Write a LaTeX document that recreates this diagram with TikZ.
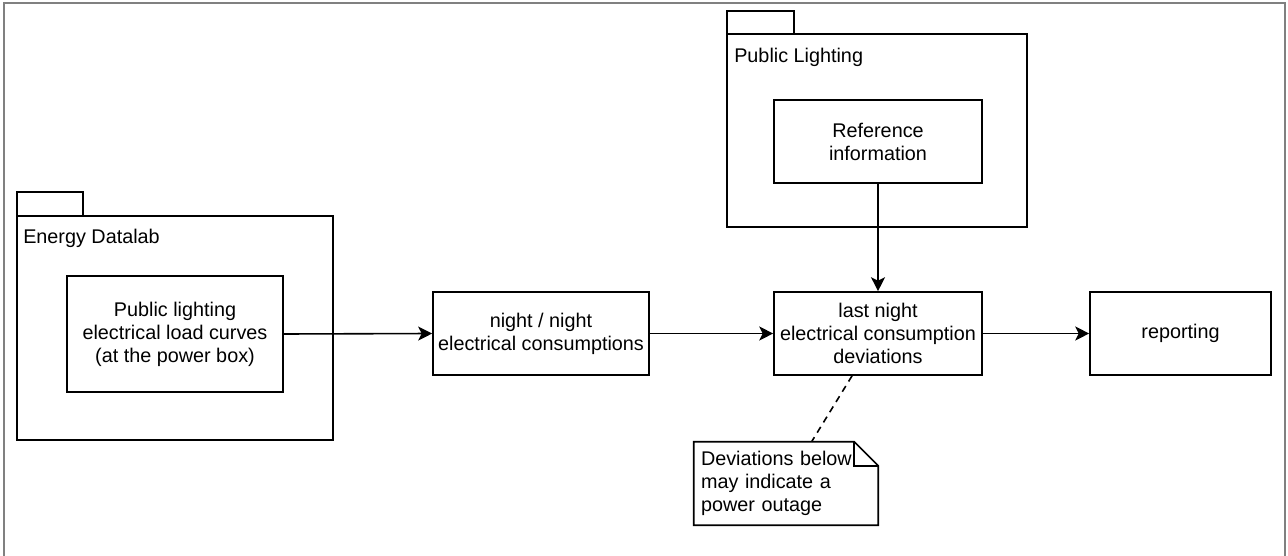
\documentclass[tikz,border=0pt]{standalone}
\usepackage{fontspec}
\setmainfont{Liberation Sans}
\usetikzlibrary{arrows.meta,calc}
\def\pxs{0.75pt}
\tikzset{
  base/.style={line width=1.2pt, draw=black},
  box/.style={base, rectangle, inner sep=0pt, align=center,
    font={\fontsize{14.85}{17.25}\selectfont}},
  pkgbody/.style={base, rectangle, inner sep=0pt},
  pkgtitle/.style={anchor=base west, inner sep=0pt,
    font={\fontsize{14.85}{17.25}\selectfont}},
  arr/.style={line width=1.2pt, -{Stealth[length=10.5pt, width=10.5pt, inset=2.6pt]}},
  notebox/.style={rectangle, inner xsep=7*\pxs, inner ysep=0pt, align=left,
    text width=170*\pxs, minimum height=83*\pxs,
    font={\fontsize{14.85}{17.25}\selectfont}},
  framestyle/.style={draw=black!50, line width=1.6pt},
}
\begin{document}
\begin{tikzpicture}[x=0.75pt, y=-0.75pt]
\useasboundingbox (0,0) rectangle (1288,556);
% outer frame (open at the bottom)
\draw[framestyle] (4,560) -- (4,3) -- (1285,3) -- (1285,560);

% Energy Datalab package
\draw[base] (17,192) rectangle (83,216);
\node[pkgbody, minimum width=316*\pxs, minimum height=224*\pxs] (ed) at (175,328) {};
\node[pkgtitle] (edtitle) at (23,243) {Energy Datalab};
\node[box, minimum width=216*\pxs, minimum height=116*\pxs] (plc) at (175,334)
  {Public lighting\\electrical load curves\\(at the power box)};

% Public Lighting package
\draw[base] (727,11) rectangle (794,34);
\node[pkgbody, minimum width=300*\pxs, minimum height=193*\pxs] (pl) at (877,130.5) {};
\node[pkgtitle] (pltitle) at (734,63) {Public Lighting};
\node[box, minimum width=208*\pxs, minimum height=83*\pxs] (ref) at (878,141.5)
  {Reference\\information};

% process boxes
\node[box, minimum width=216*\pxs, minimum height=83*\pxs] (nn) at (541,333.5)
  {night / night\\electrical consumptions};
\node[box, minimum width=208*\pxs, minimum height=83*\pxs] (dev) at (878,333.5)
  {last night\\electrical consumption\\deviations};
\node[box, minimum width=181*\pxs, minimum height=83*\pxs] (rep) at (1180.5,333.5)
  {reporting};

% note
\node[notebox] (note) at (786,483.5)
  {Deviations below\\may indicate a\\power outage};
\draw[base] (note.north west) -- ($(note.north east)+(-24,0)$) -- ($(note.north east)+(0,24)$)
  -- (note.south east) -- (note.south west) -- cycle;
\draw[base] ($(note.north east)+(-24,0)$) -- ($(note.north east)+(-24,24)$) -- ($(note.north east)+(0,24)$);

% connectors
\draw[arr] (plc.east) -- (nn.west);
\draw[arr] (nn.east) -- (dev.west);
\draw[arr] (dev.east) -- (rep.west);
\draw[arr] (ref.south) -- (dev.north);
\draw[line width=1.2pt, dashed, dash pattern=on 5pt off 4pt] (dev) -- (note);
\end{tikzpicture}
\end{document}
